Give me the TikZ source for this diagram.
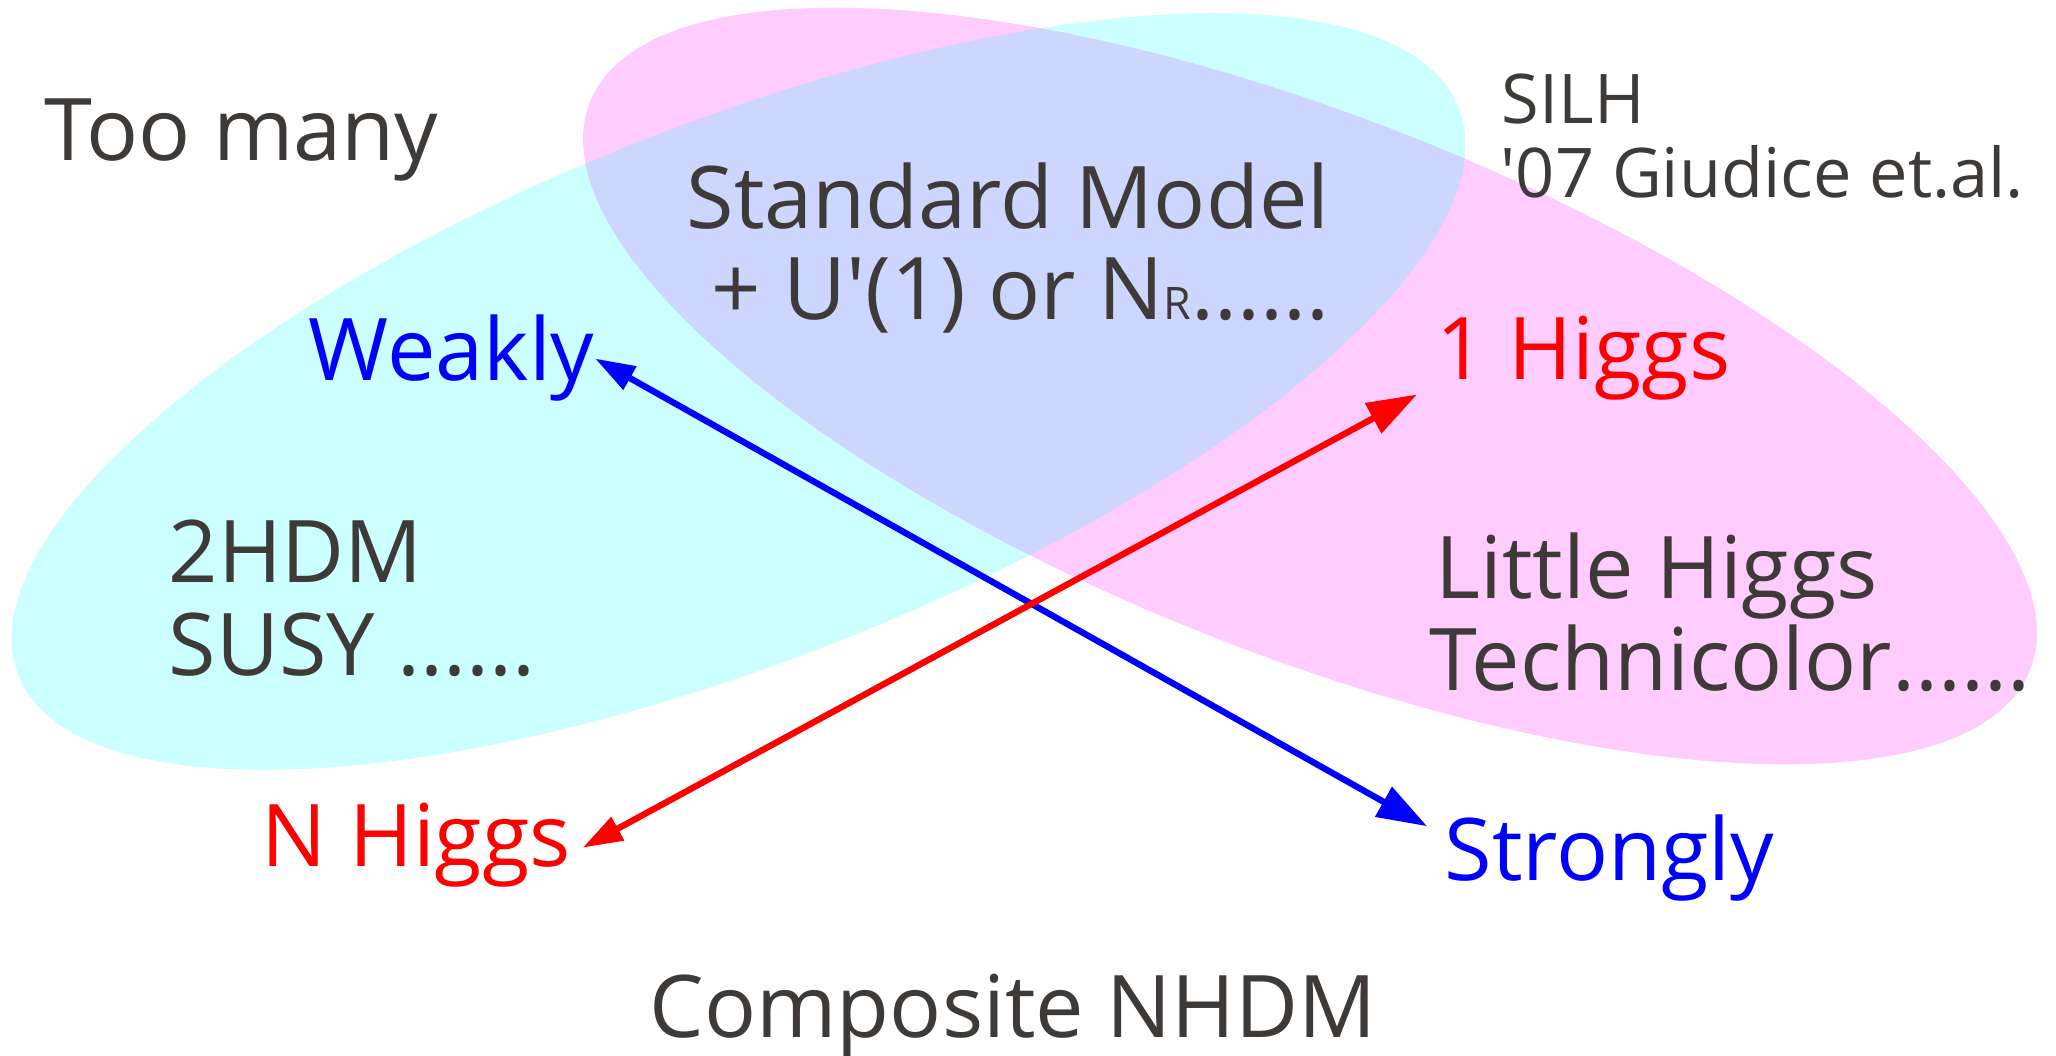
\documentclass[tikz,border=0pt]{standalone}
\usepackage{fontspec}
\setmainfont{Open Sans}
\usetikzlibrary{arrows.meta}

\definecolor{txtgray}{RGB}{61,58,56}
\definecolor{skyfill}{RGB}{204,255,255}
\definecolor{rosefill}{RGB}{255,204,255}
\definecolor{mixfill}{RGB}{204,214,255}

\begin{document}
\begin{tikzpicture}[
	txt/.style={inner sep=0pt, anchor=base west, text=txtgray, font=\fontsize{24.6}{29}\selectfont},
	smalltxt/.style={txt, font=\fontsize{19.5}{23}\selectfont},
	twoway/.style={line width=1.8pt, arrows={Triangle[length=4mm,width=2.55mm]-Triangle[length=5mm,width=3.3mm]}}
]
	\useasboundingbox (0,0) rectangle (20.56,10.55);
	\coordinate (W) at (7.385,6.635);
	\coordinate (S) at (13.10,6.69);
	
	% the two model regions and their overlap
	\fill[skyfill, rotate around={21.5:(W)}] (W) ellipse [x radius=7.74, y radius=2.69];
	\fill[rosefill, rotate around={-21.5:(S)}] (S) ellipse [x radius=7.74, y radius=2.69];
	\begin{scope}
		\clip[rotate around={21.5:(W)}] (W) ellipse [x radius=7.74, y radius=2.69];
		\fill[mixfill, rotate around={-21.5:(S)}] (S) ellipse [x radius=7.74, y radius=2.69];
	\end{scope}
	
	\node[txt] (many) at (0.44,8.945) {Too many};
	\node[smalltxt] (silh) at (15.01,9.316) {SILH};
	\node[smalltxt] (giud) at (15.0,8.572) {\textquotesingle07 Giudice et.al.};
	\node[txt] (sm) at (6.86,8.27) {Standard Model};
	\node[txt] (ext) at (7.11,7.355) {+ U\textquotesingle(1) or N{\fontsize{12.75}{15}\selectfont R}......};
	\node[txt] (thdm) at (1.68,4.725) {2HDM};
	\node[txt] (susy) at (1.68,3.796) {SUSY ......};
	\node[txt] (little) at (14.35,4.563) {Little Higgs};
	\node[txt] (techni) at (14.29,3.644) {Technicolor......};
	\node[txt] (comp) at (6.49,0.18) {Composite NHDM};
	
	\node[txt, text=blue] (weak) at (3.08,6.75) {Weakly};
	\node[txt, text=blue] (strong) at (14.44,1.744) {Strongly};
	\node[txt, text=red] (oneh) at (14.36,6.76) {1 Higgs};
	\node[txt, text=red] (nh) at (2.61,1.89) {N Higgs};
	
	\draw[twoway, blue] ([shift={(0.0,-0.01)}]weak.east) -- ([shift={(-0.17,-0.12)}]strong.north west);
	\draw[twoway, red] ([shift={(0.11,-0.03)}]nh.east) -- ([shift={(-0.19,0.06)}]oneh.south west);
\end{tikzpicture}
\end{document}
